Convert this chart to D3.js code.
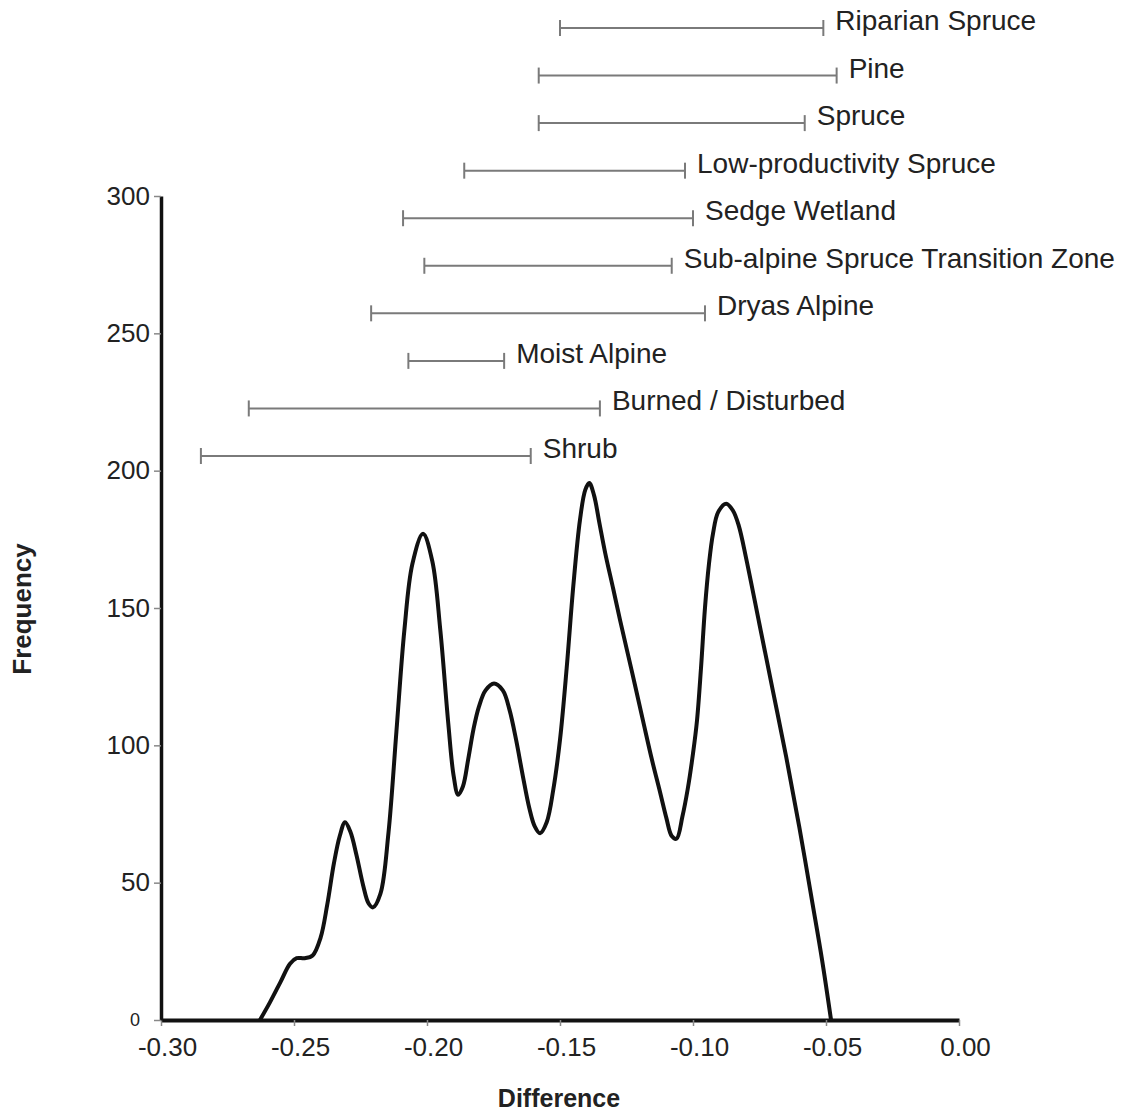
<!DOCTYPE html>
<html>
<head>
<meta charset="utf-8">
<script src="https://cdn.jsdelivr.net/npm/d3@7"></script>
<style>
    body { margin: 0; background: #fff; }
    text { font-family: "Liberation Sans", Arial, sans-serif; fill: #222; }
</style>
</head>
<body>
<div id="chart"></div>
<script>
// density curve of the difference (x = difference, y = frequency)
var curveX = [-0.2628, -0.2590, -0.2550, -0.2515, -0.2490, -0.2460, -0.2430, -0.2400, -0.2375, -0.2350,
    -0.2328, -0.2308, -0.2288, -0.2265, -0.2240, -0.2220, -0.2203, -0.2175, -0.2145, -0.2115,
    -0.2085, -0.2055, -0.2015, -0.1980, -0.1950, -0.1920, -0.1900, -0.1883, -0.1865, -0.1845,
    -0.1825, -0.1805, -0.1780, -0.1748, -0.1715, -0.1690, -0.1665, -0.1640, -0.1615, -0.1595,
    -0.1575, -0.1550, -0.1525, -0.1500, -0.1475, -0.1450, -0.1425, -0.1405, -0.1390, -0.1372,
    -0.1352, -0.1330, -0.1300, -0.1274, -0.1230, -0.1188, -0.1155, -0.1124, -0.1100, -0.1080,
    -0.1062, -0.1040, -0.1020, -0.1000, -0.0985, -0.0970, -0.0955, -0.0940, -0.0925, -0.0905,
    -0.0875, -0.0850, -0.0828, -0.0800, -0.0750, -0.0700, -0.0650, -0.0600, -0.0550, -0.0515,
    -0.0481];
var curveY = [0, 6.5, 14, 20.5, 22.5, 22.5, 23.5, 30, 42, 57,
    67, 72, 68.5, 60, 49, 42.5, 41, 46, 68, 105,
    142, 166, 177, 167, 142, 108, 89, 82, 85, 95,
    106, 114, 120, 122.5, 120, 113, 102, 89, 77, 70.5,
    68, 72, 84, 102, 128, 158, 182, 193, 195.5, 191,
    181, 170, 157, 145.5, 127, 109, 95, 83, 73.5, 67,
    66, 74, 84, 97, 109, 128, 150, 166, 177, 185,
    188, 185.5, 180, 168, 144, 120, 96, 70, 42, 22,
    0];

// ranges per land cover class
var classes = ["Riparian Spruce", "Pine", "Spruce", "Low-productivity Spruce", "Sedge Wetland",
    "Sub-alpine Spruce Transition Zone", "Dryas Alpine", "Moist Alpine", "Burned / Disturbed", "Shrub"];
var rangeLow = [-0.150, -0.158, -0.158, -0.186, -0.209, -0.201, -0.221, -0.207, -0.267, -0.285];
var rangeHigh = [-0.051, -0.046, -0.058, -0.103, -0.100, -0.108, -0.0955, -0.171, -0.135, -0.161];

var xTicks = [-0.30, -0.25, -0.20, -0.15, -0.10, -0.05, 0.00];
var yTicks = [0, 50, 100, 150, 200, 250, 300];

var width = 1125, height = 1114;

var svg = d3.select("#chart")
    .append("svg")
    .attr("width", width)
    .attr("height", height);

var x = d3.scaleLinear().domain([-0.30, 0]).range([161, 959]);
var y = d3.scaleLinear().domain([0, 300]).range([1020, 196]);
var row = d3.scalePoint().domain(classes).range([28, 456]);

// X axis
var xAxis = svg.append("g")
    .attr("transform", "translate(0,1020)")
    .call(d3.axisBottom(x).tickValues(xTicks).tickSize(6).tickSizeOuter(0).tickPadding(12)
        .tickFormat(function (d) { return d.toFixed(2); }));
xAxis.select(".domain").attr("stroke", "#111").attr("stroke-width", 4);
xAxis.selectAll(".tick line").attr("stroke", "#888").attr("stroke-width", 1.5);
xAxis.selectAll(".tick text")
    .attr("x", 6)
    .attr("font-size", 26)
    .attr("font-family", "Liberation Sans, Arial, sans-serif")
    .attr("fill", "#222");

// Y axis
var yAxis = svg.append("g")
    .attr("transform", "translate(161,0)")
    .call(d3.axisLeft(y).tickValues(yTicks).tickSize(7).tickSizeOuter(0).tickPadding(5));
yAxis.select(".domain").attr("stroke", "#111").attr("stroke-width", 3.5);
yAxis.selectAll(".tick line").attr("stroke", "#888").attr("stroke-width", 1.5);
yAxis.selectAll(".tick text")
    .attr("font-size", function (d) { return d === 0 ? 18 : 26; })
    .attr("x", function (d) { return d === 0 ? -21 : -11; })
    .attr("font-family", "Liberation Sans, Arial, sans-serif")
    .attr("fill", "#222");

// axis titles
svg.append("text")
    .attr("x", 559)
    .attr("y", 1107)
    .attr("text-anchor", "middle")
    .attr("font-size", 25)
    .attr("font-weight", "bold")
    .text("Difference");

svg.append("text")
    .attr("transform", "translate(31,609) rotate(-90)")
    .attr("text-anchor", "middle")
    .attr("font-size", 26)
    .attr("font-weight", "bold")
    .text("Frequency");

// range bars
var bars = svg.selectAll(".range")
    .data(classes)
    .enter().append("g")
    .attr("class", "range")
    .attr("transform", function (d) { return "translate(0," + row(d) + ")"; });

bars.append("line")
    .attr("x1", function (d, i) { return x(rangeLow[i]); })
    .attr("x2", function (d, i) { return x(rangeHigh[i]); })
    .attr("stroke", "#7a7a7a")
    .attr("stroke-width", 2);

bars.append("line")
    .attr("x1", function (d, i) { return x(rangeLow[i]); })
    .attr("x2", function (d, i) { return x(rangeLow[i]); })
    .attr("y1", -8).attr("y2", 8)
    .attr("stroke", "#7a7a7a")
    .attr("stroke-width", 2);

bars.append("line")
    .attr("x1", function (d, i) { return x(rangeHigh[i]); })
    .attr("x2", function (d, i) { return x(rangeHigh[i]); })
    .attr("y1", -8).attr("y2", 8)
    .attr("stroke", "#7a7a7a")
    .attr("stroke-width", 2);

bars.append("text")
    .attr("x", function (d, i) { return x(rangeHigh[i]) + 12; })
    .attr("y", 2)
    .attr("font-size", 28)
    .text(function (d) { return d; });

// the curve
var line = d3.line()
    .curve(d3.curveCatmullRom.alpha(0.5))
    .x(function (d) { return x(d[0]); })
    .y(function (d) { return y(d[1]); });

svg.append("path")
    .datum(d3.zip(curveX, curveY))
    .attr("fill", "none")
    .attr("stroke", "#111")
    .attr("stroke-width", 4)
    .attr("stroke-linejoin", "round")
    .attr("d", line);
</script>
</body>
</html>
